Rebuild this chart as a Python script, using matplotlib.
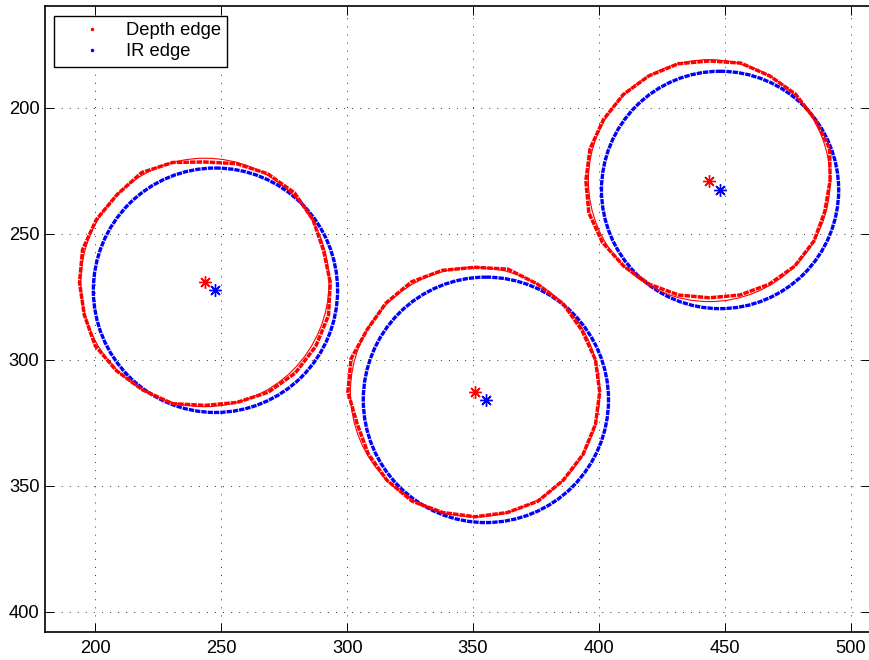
import numpy as np
import matplotlib
matplotlib.use('Agg')
import matplotlib.pyplot as plt
from matplotlib.patches import Circle
from matplotlib.lines import Line2D

plt.rcParams['font.family'] = ['Liberation Sans', 'DejaVu Sans']

# fitted circles of the depth edge (red)
depth_cx = [243.5, 350.8, 443.8]
depth_cy = [269.4, 312.9, 229.0]
depth_r = [49.3, 49.5, 48.0]

# circles of the IR edge (blue)
ir_cx = [247.7, 355.1, 448.1]
ir_cy = [272.5, 316.0, 232.7]
ir_r = [48.5, 48.7, 47.1]

# depth edge pixels: offset from the fitted circle, read every 15 deg
# (0 = right, counter-clockwise as seen on screen)
edge_angles = list(range(0, 360, 15))
depth_dev1 = [0.5, -0.5, 0.3, 1, 0.5, -0.5, -1.5, 0, 1, 0, 0.5, 1,
              0.5, 0.3, 1, 0.3, 0, 0.5, -0.5, 0, 1, 1.5, 1.5, 1.5]
depth_dev2 = [0, 0, -0.5, 0, 0, 1, 0, 0.5, 1, 0.5, 0, 1.5,
              1, -1, -0.5, 0, 0.5, 0, 0, 0, 0.5, 0, 0, 0]
depth_dev3 = [0, 1.5, 0.5, 0.5, 0, 0.3, -0.5, 0, 0, 0.3, 0.5, 1,
              1, 1.5, 1, 0, -0.5, -1, -1.5, -1, -0.5, 0, 0, -0.5]
depth_dev = [depth_dev1, depth_dev2, depth_dev3]

xticks = [200, 250, 300, 350, 400, 450, 500]
yticks = [200, 250, 300, 350, 400]

fig = plt.figure(figsize=(8.7, 6.6), dpi=100)
ax = fig.add_axes([45 / 870, 28.3 / 660, 825 / 870, 625.7 / 660])

dotted = (0, (1.6, 0.3))
phi = np.radians(edge_angles + [360])
for i in range(3):
    dev = np.array(depth_dev[i] + [depth_dev[i][0]])
    r = depth_r[i] + dev
    x = depth_cx[i] + r * np.cos(phi)
    y = depth_cy[i] - r * np.sin(phi)
    ax.plot(x, y, color='red', lw=2.5, ls=dotted, dash_capstyle='butt')

for i in range(3):
    ax.add_patch(Circle((ir_cx[i], ir_cy[i]), ir_r[i], fill=False,
                        ec='blue', lw=2.4, ls=dotted))

for i in range(3):
    ax.add_patch(Circle((depth_cx[i], depth_cy[i]), depth_r[i], fill=False,
                        ec='red', lw=0.8))

ax.plot(depth_cx, depth_cy, ls='none', marker=(8, 2, 0), color='red', ms=9, mew=1)
ax.plot(ir_cx, ir_cy, ls='none', marker=(8, 2, 0), color='blue', ms=9, mew=1)

ax.set_xlim(180, 180 + 825 / 2.518)
ax.set_ylim(408.0, 159.7)
ax.set_xticks(xticks)
ax.set_yticks(yticks)
ax.grid(True, color='0.2', lw=0.7, ls=(0, (1, 7.3)))
ax.tick_params(direction='in', length=6.5, width=0.7, top=True, right=True,
               labelsize=13.2)
ax.tick_params(axis='x', pad=6)
ax.tick_params(axis='y', pad=4)
ax.spines['right'].set_visible(False)
for s in ['left', 'bottom', 'top']:
    ax.spines[s].set_linewidth(1.2)

handles = [Line2D([], [], ls='none', marker='.', color='red', ms=3),
           Line2D([], [], ls='none', marker='.', color='blue', ms=3)]
leg = ax.legend(handles, ['Depth edge', 'IR edge'], loc='upper left',
                bbox_to_anchor=(9 / 825, 1 - 10 / 625.7), borderaxespad=0,
                fontsize=13.2, fancybox=False, framealpha=1, edgecolor='black',
                borderpad=0.35, handlelength=3.5, handletextpad=0.07,
                labelspacing=0.2)
leg.get_frame().set_linewidth(1.0)

fig.savefig('out.png', dpi=100)
